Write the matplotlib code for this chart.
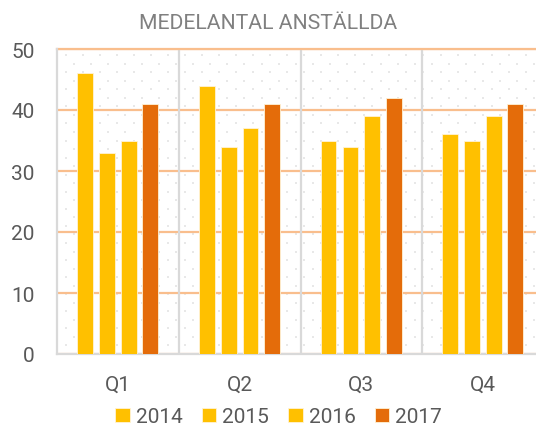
import numpy as np
import matplotlib.pyplot as plt

plt.rcParams['font.family'] = ['Roboto', 'DejaVu Sans']

quarters = ['Q1', 'Q2', 'Q3', 'Q4']
years = ['2014', '2015', '2016', '2017']
v2014 = [46, 44, 35, 36]
v2015 = [33, 34, 34, 35]
v2016 = [35, 37, 39, 39]
v2017 = [41, 41, 42, 41]
series = [v2014, v2015, v2016, v2017]
colors = ['#FFC000', '#FFC000', '#FFC000', '#E46C0A']

fig = plt.figure(figsize=(5.36, 4.27), dpi=100)
ax = fig.add_axes([57 / 536, 72 / 427, 487 / 536, 305 / 427])

# dotted background, staggered rows
xs = np.arange(-0.5 + 0.07, 3.5, 0.14)
ys = np.arange(1.4, 50, 1.4)
for i, yv in enumerate(ys):
    shift = 0.07 if i % 2 else 0.0
    ax.scatter(xs + shift, np.full(len(xs), yv), s=2.5, color='#E8E8E8',
               marker='s', lw=0, zorder=0)

x = np.arange(len(quarters))
offsets = [-0.27, -0.09, 0.09, 0.265]
for vals, off, c, lab in zip(series, offsets, colors, years):
    ax.bar(x + off, vals, width=0.13, color=c, edgecolor='#FFF3D6', linewidth=0.6,
           label=lab, zorder=3)

ax.set_xlim(-0.5, 3.5)
ax.set_ylim(0, 50)
ax.set_yticks(range(0, 51, 10))
ax.yaxis.grid(True, color='#F9BE8D', lw=1.6, zorder=1)
ax.axhline(50, color='#F9BE8D', lw=1.6, clip_on=False, zorder=2)
for sep in [0.5, 1.5, 2.5]:
    ax.axvline(sep, color='#D9D9D9', lw=1.6, zorder=1)
ax.set_axisbelow(True)

ax.set_xticks(x)
ax.set_xticklabels(quarters)
ax.tick_params(axis='both', length=0, labelsize=15, colors='#595959')
ax.tick_params(axis='x', pad=15)
ax.tick_params(axis='y', pad=16)

for s in ['top', 'right']:
    ax.spines[s].set_visible(False)
for s in ['left', 'bottom']:
    ax.spines[s].set_color('#D9D9D9')
    ax.spines[s].set_linewidth(1.6)

fig.text(0.5, 0.945, 'MEDELANTAL ANSTÄLLDA', ha='center', va='center',
         fontsize=15.2, color='#808080')

fig.legend(loc='center', bbox_to_anchor=(0.52, 0.022), ncol=4, frameon=False,
           fontsize=15, handlelength=0.7, handleheight=0.7, handletextpad=0.3,
           columnspacing=0.9, labelcolor='#595959')

fig.savefig('out.png', dpi=100)
